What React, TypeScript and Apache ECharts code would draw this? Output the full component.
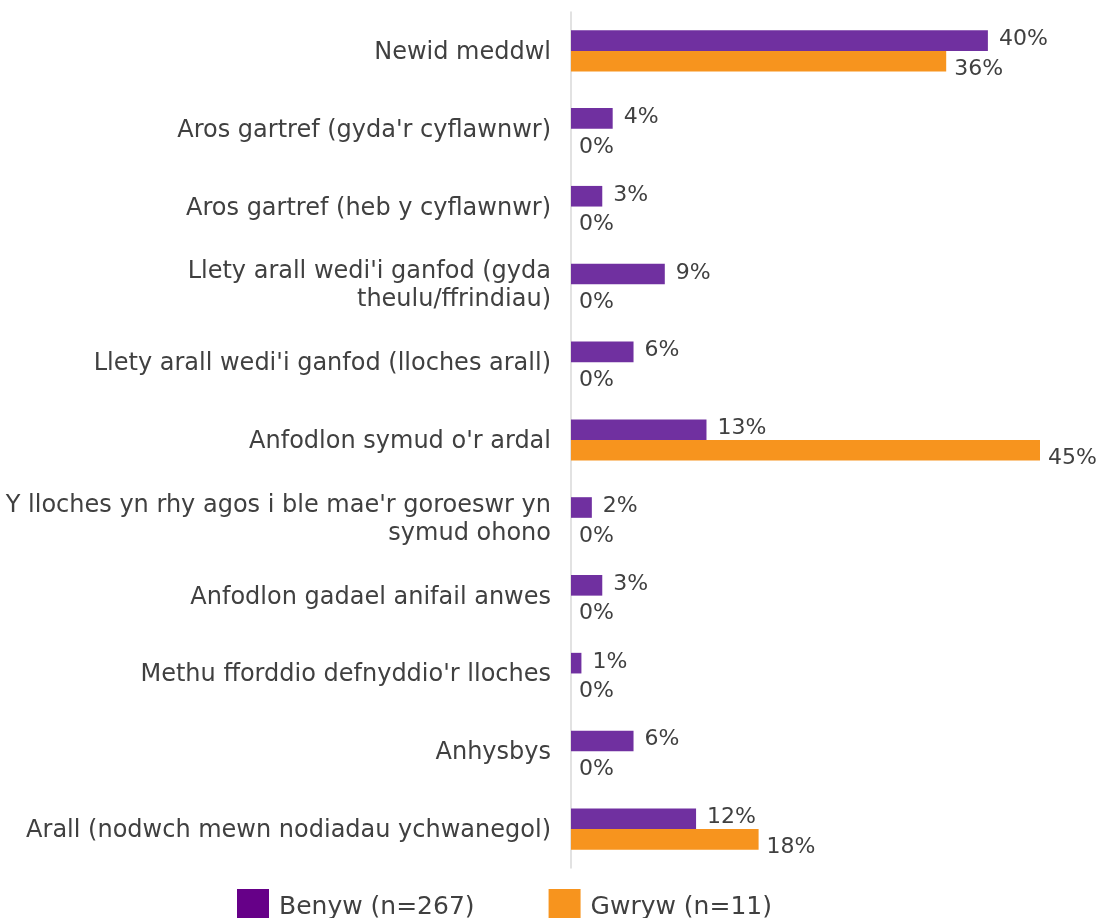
import React, { useEffect, useRef } from "react";
import * as echarts from "echarts";

const categories = [
  "Newid meddwl",
  "Aros gartref (gyda'r cyflawnwr)",
  "Aros gartref (heb y cyflawnwr)",
  "Llety arall wedi'i ganfod (gyda\ntheulu/ffrindiau)",
  "Llety arall wedi'i ganfod (lloches arall)",
  "Anfodlon symud o'r ardal",
  "Y lloches yn rhy agos i ble mae'r goroeswr yn\nsymud ohono",
  "Anfodlon gadael anifail anwes",
  "Methu fforddio defnyddio'r lloches",
  "Anhysbys",
  "Arall (nodwch mewn nodiadau ychwanegol)",
];
const benyw = [40, 4, 3, 9, 6, 13, 2, 3, 1, 6, 12];
const gwryw = [36, 0, 0, 0, 0, 45, 0, 0, 0, 0, 18];
const seriesNames = ["Benyw (n=267)", "Gwryw (n=11)"];

const FONT = "DejaVu Sans";
const TEXT = "#404040";

export default function App() {
  const ref = useRef<HTMLDivElement>(null);
  useEffect(() => {
    const chart = echarts.init(ref.current!, null, { renderer: "svg" });
    chart.setOption({
      animation: false,
      textStyle: { fontFamily: FONT },
      grid: { left: 571, right: 58, top: 12, bottom: 50, containLabel: false },
      legend: {
        left: 232,
        top: 884,
        itemWidth: 32,
        itemHeight: 32,
        itemGap: 74,
        icon: "rect",
        textStyle: { fontSize: 25, color: TEXT, fontFamily: FONT, padding: [0, 0, 0, 5] },
        data: [
          { name: seriesNames[0], itemStyle: { color: "#660088" } },
          { name: seriesNames[1], itemStyle: { color: "#F7941E" } },
        ],
      },
      xAxis: {
        type: "value",
        min: 0,
        max: 45,
        show: false,
        splitLine: { show: false },
      },
      yAxis: {
        type: "category",
        inverse: true,
        data: categories,
        axisLine: { show: true, lineStyle: { color: "#d9d9d9", width: 1.5 } },
        axisTick: { show: false },
        axisLabel: {
          fontSize: 24,
          color: TEXT,
          fontFamily: FONT,
          margin: 20,
          lineHeight: 28,
          align: "right",
        },
      },
      series: [
        {
          name: seriesNames[0],
          type: "bar",
          data: benyw,
          barGap: "0%",
          barCategoryGap: "47%",
          itemStyle: { color: "#7030A0" },
          label: {
            show: true,
            position: "right",
            distance: 11,
            formatter: "{c}%",
            fontSize: 22,
            color: TEXT,
            fontFamily: FONT,
            offset: [0, -3],
          },
        },
        {
          name: seriesNames[1],
          type: "bar",
          data: gwryw,
          itemStyle: { color: "#F7941E" },
          label: {
            show: true,
            position: "right",
            distance: 8,
            formatter: "{c}%",
            fontSize: 22,
            color: TEXT,
            fontFamily: FONT,
            offset: [0, 6],
          },
        },
      ],
    });
    return () => chart.dispose();
  }, []);
  return (
    <div
      ref={ref}
      style={{ position: "fixed", left: 0, top: 0, width: 1098, height: 918 }}
    />
  );
}
